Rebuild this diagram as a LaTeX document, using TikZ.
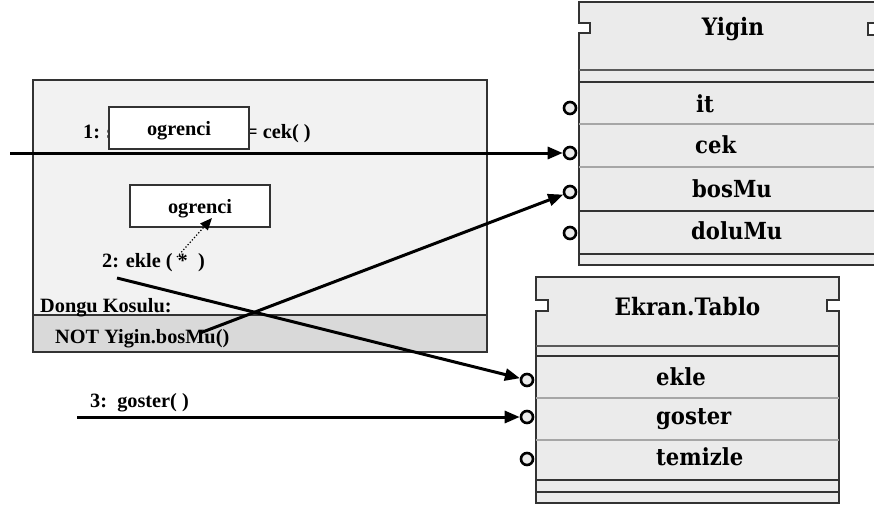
\documentclass[tikz,border=0pt]{standalone}
\usepackage{fontspec}
\setmainfont{Liberation Serif}
\newfontfamily\classfont[FakeStretch=0.9]{DejaVu Serif}
\usetikzlibrary{arrows.meta}

\definecolor{loopfill}{HTML}{F2F2F2}
\definecolor{bandfill}{HTML}{D9D9D9}
\definecolor{clsfill}{HTML}{EBEBEB}
\definecolor{rulegray}{HTML}{A6A6A6}
\definecolor{edgegray}{HTML}{333333}
\definecolor{midgray}{HTML}{5A5A5A}

\begin{document}
\begin{tikzpicture}[x=1pt,y=-1pt,
  lbl/.style={font=\fontsize{20.3}{23}\selectfont\bfseries, inner sep=0pt, anchor=base west},
  clsname/.style={font=\classfont\fontsize{24}{27}\selectfont\bfseries, inner sep=0pt, anchor=base},
  member/.style={font=\classfont\fontsize{23.5}{27}\selectfont\bfseries, inner sep=0pt, anchor=base west},
  objbox/.style={draw=edgegray, fill=white, line width=1.4pt, minimum width=140pt, minimum height=42pt, inner sep=0pt},
  framebox/.style={draw=edgegray, line width=1.6pt, minimum width=454pt, inner sep=0pt},
  port/.style={circle, draw=black, fill=clsfill, line width=2.6pt, minimum size=12pt, inner sep=0pt},
  flow/.style={line width=3pt, -{Triangle[length=15pt,width=12pt]}},
  callflow/.style={line width=1.2pt, dotted, -{Triangle[length=12pt,width=10pt]}},
  classedge/.style={draw=edgegray, fill=clsfill, line width=1.6pt},
  darkrule/.style={draw=edgegray, line width=1.8pt},
  midrule/.style={draw=midgray, line width=1.6pt},
  lightrule/.style={draw=rulegray, line width=1.6pt},
]
\useasboundingbox (0,0) rectangle (874,508);
\clip (0,0) rectangle (874,508);

% loop frame with its condition band
\node[framebox, fill=loopfill, minimum height=272pt] (loop) at (260,216) {};
\node[framebox, fill=bandfill, minimum height=37pt] (cond) at (260,333.5) {};

% message 1 and its result object
\node[lbl] (m1a) at (83,138) {1: s};
\node[lbl] (m1b) at (246,138) {= cek(~)};
\node[objbox] (obj1) at (179,128) {};
\node[lbl, anchor=base] (obj1t) at (179,135) {ogrenci};

% message 2 and its argument object
\node[objbox] (obj2) at (200,206) {};
\node[lbl, anchor=base] (obj2t) at (200,213) {ogrenci};
\node[lbl] (m2) at (102,267) {2: ekle ( *~~)};

% loop condition
\node[lbl] (cond1) at (40,312) {Dongu Kosulu:};
\node[lbl] (cond2) at (55,343) {NOT Yigin.bosMu()};

% message 3
\node[lbl] (m3) at (90,407) {3:~~goster(~)};

% class Yigin
\path[classedge] (579,2) -- (880,2) -- (880,23) -- (868,23) -- (868,35) -- (880,35)
  -- (880,265) -- (579,265) -- (579,33) -- (590,33) -- (590,23) -- (579,23) -- cycle;
\draw[midrule] (579,70) -- (880,70);
\draw[darkrule] (579,82) -- (880,82);
\draw[lightrule] (579,124) -- (880,124);
\draw[lightrule] (579,167) -- (880,167);
\draw[darkrule] (579,211) -- (880,211);
\draw[darkrule] (579,254) -- (880,254);
\node[clsname] (yigin) at (733,36) {Yigin};
\node[member] (yIt) at (696,112) {it};
\node[member] (yCek) at (695,153) {cek};
\node[member] (yBos) at (692,197) {bosMu};
\node[member] (yDolu) at (691,239) {doluMu};
\node[port] (pIt) at (570,108) {};
\node[port] (pCek) at (570,153) {};
\node[port] (pBos) at (570,192) {};
\node[port] (pDolu) at (570,233) {};

% class Ekran.Tablo
\path[classedge] (536,277) -- (839,277) -- (839,300) -- (827,300) -- (827,311) -- (839,311)
  -- (839,503) -- (536,503) -- (536,311) -- (548,311) -- (548,300) -- (536,300) -- cycle;
\draw[midrule] (536,346) -- (839,346);
\draw[darkrule] (536,356) -- (839,356);
\draw[lightrule] (536,398) -- (839,398);
\draw[lightrule] (536,440) -- (839,440);
\draw[darkrule] (536,480) -- (839,480);
\draw[darkrule] (536,492) -- (839,492);
\node[clsname] (ekran) at (687.5,315) {Ekran.Tablo};
\node[member] (eEkle) at (656,385) {ekle};
\node[member] (eGoster) at (656,424) {goster};
\node[member] (eTemizle) at (656,465) {temizle};
\node[port] (pEkle) at (527,380) {};
\node[port] (pGoster) at (527,417) {};
\node[port] (pTemizle) at (527,459) {};

% message flows
\coordinate (in1) at (10,153);
\coordinate (in2) at (200,333);
\coordinate (in3) at (117,278);
\coordinate (in4) at (77,417);
\coordinate (star) at (177,257);
\coordinate (obj2in) at (212,218);
\draw[callflow] (star) -- (obj2in);
\draw[flow] (in1) -- (pCek);
\draw[flow] (in2) -- (pBos);
\draw[flow] (in3) -- (pEkle);
\draw[flow] (in4) -- (pGoster);
\end{tikzpicture}
\end{document}
